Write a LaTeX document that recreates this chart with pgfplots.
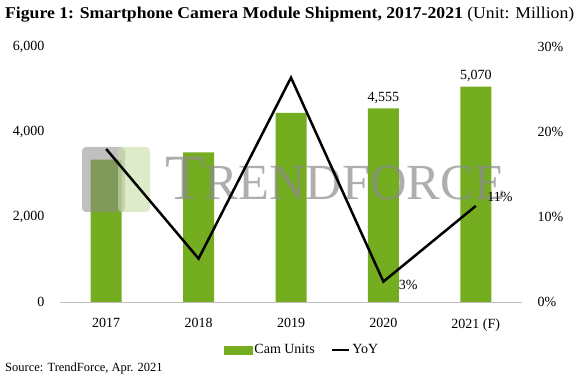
\documentclass[border=0pt]{standalone}
\usepackage{fontspec}
\setmainfont{Liberation Serif}
\newfontfamily\titlefont{Liberation Serif}[FakeStretch=1.07]
\usepackage{pgfplots}
\pgfplotsset{compat=1.18}
\definecolor{camgreen}{RGB}{117,173,33}
\begin{document}
\begin{tikzpicture}[x=1pt,y=1pt]
\useasboundingbox (0,0) rectangle (576,377);
\node[anchor=base west, inner sep=0] at (5,358) {\titlefont\fontsize{16.5}{16.5}\selectfont\textbf{Figure 1: Smartphone Camera Module Shipment, 2017-2021} (Unit: Million)};
\node[anchor=base west, inner sep=0] at (5,5) {\fontsize{12.5}{12.5}\selectfont Source: TrendForce, Apr. 2021};
\begin{axis}[
  at={(60pt,75pt)}, anchor=south west, width=462pt, height=255pt, scale only axis,
  xmin=-0.5, xmax=4.5, ymin=0, ymax=6000,
  xtick={0,1,2,3,4}, xticklabels={2017,2018,2019,2020,2021 (F)},
  ytick={0,2000,4000,6000},
  axis x line*=bottom, axis y line*=left,
  y axis line style={draw=none},
  x axis line style={draw=black!25, line width=0.8pt, -},
  major tick length=0pt,
  tick label style={font=\fontsize{14}{14}\selectfont},
  /pgf/number format/.cd, 1000 sep={,}, assume math mode=true,
  /pgfplots/.cd,
  yticklabel style={xshift=-12pt},
  xticklabel style={yshift=-13pt},
  nodes near coords style={font=\fontsize{14}{14}\selectfont},
]
\addplot[ybar, bar width=31pt, fill=camgreen, draw=none] coordinates {(0,3350) (1,3520) (2,4450) (3,4555) (4,5070)};
\addplot[draw=none, mark=none, nodes near coords, point meta=y, nodes near coords style={anchor=south, yshift=1pt}] coordinates {(3,4555) (4,5070)};
\end{axis}
% watermark
\fill[black!45, opacity=0.55, rounded corners=4pt] (82,165) rectangle (125,230);
\fill[camgreen!40, opacity=0.6, rounded corners=4pt] (118,165) rectangle (150,230);
\node[anchor=west, inner sep=0, text=black!45, opacity=0.7] at (165,198) {\resizebox{340pt}{!}{\fontsize{60}{60}\selectfont T\fontsize{47}{47}\selectfont RENDFORCE}};
\begin{axis}[
  at={(60pt,75pt)}, anchor=south west, width=462pt, height=255pt, scale only axis,
  xmin=-0.5, xmax=4.5, ymin=0, ymax=30,
  ytick={0,10,20,30},
  yticklabel={\pgfmathprintnumber{\tick}\%},
  axis y line*=right, axis x line=none,
  y axis line style={draw=none},
  major tick length=0pt,
  tick label style={font=\fontsize{14}{14}\selectfont},
  /pgf/number format/assume math mode=true,
  yticklabel style={xshift=12pt},
  legend style={at={(0.524,-0.188)}, anchor=center, draw=none, legend columns=2, font=\fontsize{14}{14}\selectfont, /tikz/every even column/.append style={column sep=14pt}},
]
\addlegendimage{legend image code/.code={\fill[camgreen] (0pt,-4pt) rectangle (28pt,4pt);}}
\addlegendentry{Cam Units}
\addplot[black, line width=2.5pt, mark=none] coordinates {(0,18.0) (1,5.1) (2,26.4) (3,2.4) (4,11.3)};
\addlegendentry{YoY}
\addplot[draw=none, mark=none, nodes near coords={3\%}, nodes near coords style={anchor=west, font=\fontsize{14}{14}\selectfont, xshift=12pt, yshift=-3pt}, forget plot] coordinates {(3,2.4)};
\addplot[draw=none, mark=none, nodes near coords={11\%}, nodes near coords style={anchor=south west, font=\fontsize{14}{14}\selectfont, xshift=8pt, yshift=1pt}, forget plot] coordinates {(4,11.3)};
\end{axis}
\end{tikzpicture}
\end{document}
